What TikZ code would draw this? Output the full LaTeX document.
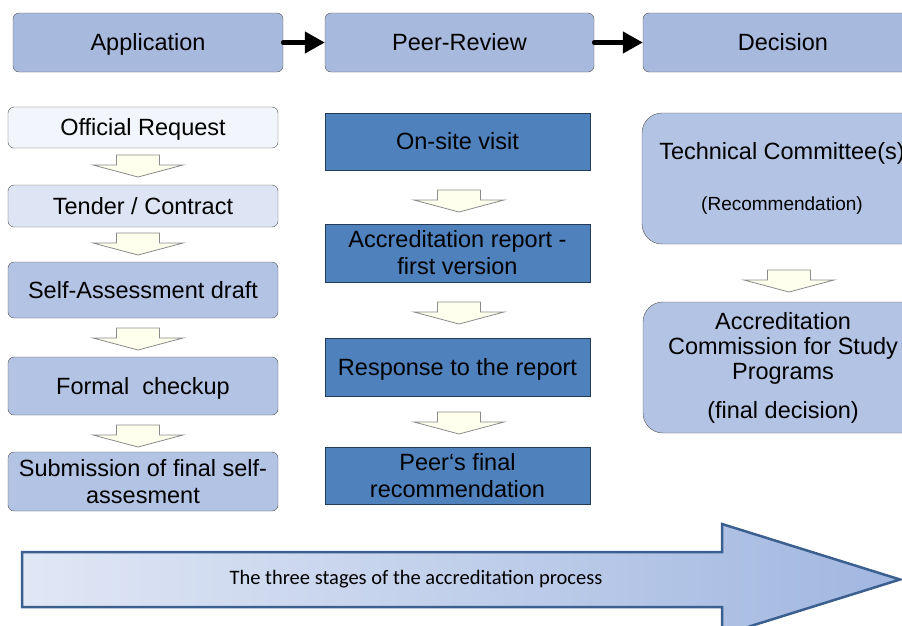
\documentclass[tikz,border=0pt]{standalone}
\usepackage{fontspec}
\setmainfont{Liberation Sans}
\newfontfamily\captionfont{Carlito}
\usepackage{xcolor}
\usepackage{tikz}
\usetikzlibrary{arrows.meta, positioning}
\definecolor{StageBlue}{HTML}{A8B9DE}
\definecolor{PaleBlue}{HTML}{B3C3E3}
\definecolor{FaintBlue}{HTML}{F2F5FB}
\definecolor{LightBlue}{HTML}{DDE4F3}
\definecolor{PeerBlue}{HTML}{4F81BD}
\definecolor{EdgeGrey}{HTML}{555555}
\definecolor{PeerEdge}{HTML}{243B5A}
\definecolor{Ivory}{HTML}{FFFFEE}
\definecolor{ArrowGrey}{HTML}{8A8A8A}
\definecolor{BandLeft}{HTML}{E0E7F5}
\definecolor{BandRight}{HTML}{A1B7E0}
\definecolor{BandEdge}{HTML}{3B5F8F}

\begin{document}
\begin{tikzpicture}[x=1pt, y=-1pt,
    every node/.style={font=\fontsize{23.5}{27}\selectfont, align=center, inner sep=0pt},
    oneline/.style={text height=21pt, text depth=5pt},
    stage/.style={oneline, draw=EdgeGrey, fill=StageBlue, rounded corners=6pt, minimum width=270pt, minimum height=59pt},
    apply/.style={draw=EdgeGrey, fill=PaleBlue, rounded corners=6pt, minimum width=270pt},
    peer/.style={draw=PeerEdge, fill=PeerBlue, minimum width=265pt, minimum height=57.5pt},
    decide/.style={draw=EdgeGrey, fill=PaleBlue, rounded corners=20pt, minimum width=280pt, minimum height=131pt},
    flowline/.style={line width=4.5pt, line cap=round, -{Triangle[length=20pt, width=21pt]}},
    flowarrow/.pic={\draw[fill=Ivory, draw=ArrowGrey, line width=0.8pt]
      (-21.5,0) -- (21.5,0) -- (21.5,10) -- (45,10) -- (0,22) -- (-45,10) -- (-21.5,10) -- cycle;}
  ]
  \path[use as bounding box, clip] (0,0) rectangle (902,625);

  % stages on top
  \node (app) [stage] at (148,42.5) {Application};
  \node (peer) [stage, minimum width=269pt] at (459.5,42.5) {Peer-Review};
  \node (dec) [stage, minimum width=280pt] at (783,42.5) {Decision};
  \draw[flowline] (app.east) -- (peer.west);
  \draw[flowline] (peer.east) -- (dec.west);

  % application column
  \node (req) [apply, oneline, fill=FaintBlue, minimum height=41pt] at (143,127.5) {Official Request};
  \node (tender) [apply, oneline, fill=LightBlue, minimum height=42pt] at (143,206) {Tender / Contract};
  \node (draft) [apply, oneline, minimum height=56pt] at (143,290) {Self-Assessment draft};
  \node (check) [apply, oneline, minimum height=58pt] at (143,386) {Formal\ \ checkup};
  \node (submit) [apply, minimum height=59pt] at (143,481.5) {Submission of final self-\\assesment};
  \pic at (138,155) {flowarrow};
  \pic at (138,233) {flowarrow};
  \pic at (138,328) {flowarrow};
  \pic at (138,425) {flowarrow};

  % peer-review column
  \node (visit) [peer, oneline] at (457.5,141.5) {On-site visit};
  \node (report) [peer] at (457.5,253) {Accreditation report -\\first version};
  \node (answer) [peer, oneline] at (457.5,367) {Response to the report};
  \node (verdict) [peer] at (457.5,475.5) {Peer‘s final\\recommendation};
  \pic at (459,190) {flowarrow};
  \pic at (459,302) {flowarrow};
  \pic at (459,412) {flowarrow};

  % decision column
  \node (tech) [decide] at (782,178.5) {Technical Committee(s)\\[24pt]{\fontsize{19}{22}\selectfont (Recommendation)}};
  \node (commission) [decide, font=\fontsize{23.5}{25}\selectfont] at (783,367.5) {Accreditation\\Commission for Study\\Programs\\[14pt](final decision)};
  \pic at (789,270) {flowarrow};

  % process band
  \path[draw=BandEdge, line width=2.5pt, left color=BandLeft, right color=BandRight]
    (22,552) -- (722,552) -- (722,524) -- (900,579.5) -- (722,635) -- (722,607) -- (22,607) -- cycle;
  \node (band) [font=\captionfont\fontsize{20.5}{24}\selectfont] at (416,579.5) {The three stages of the accreditation process};
\end{tikzpicture}
\end{document}
